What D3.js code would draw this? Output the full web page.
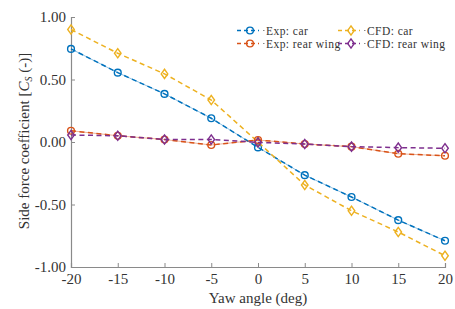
<!DOCTYPE html>
<html><head><meta charset="utf-8">
<script src="https://cdn.jsdelivr.net/npm/d3@7"></script>
<style>body{margin:0;background:#fff}svg{display:block} svg text{font-family:"Liberation Serif","DejaVu Serif",serif}</style>
</head><body><svg id="c" width="455" height="309"></svg>
<script>
const yaw = [-20,-15,-10,-5,0,5,10,15,20];
const expCar = [0.745,0.555,0.385,0.19,-0.043,-0.265,-0.44,-0.625,-0.79];
const cfdCar = [0.90,0.71,0.545,0.336,0.0,-0.344,-0.55,-0.72,-0.91];
const expWing = [0.09,0.05,0.02,-0.024,0.016,-0.016,-0.037,-0.094,-0.11];
const cfdWing = [0.056,0.05,0.02,0.02,-0.003,-0.016,-0.037,-0.045,-0.05];
const xTicks = [-20,-15,-10,-5,0,5,10,15,20];
const yTicks = [1,0.5,0,-0.5,-1];
const seriesNames = ["Exp: car","Exp: rear wing","CFD: car","CFD: rear wing"];

const series = [
  {name:seriesNames[0], vals:expCar, color:"#0072BD", marker:"circle", exp:true},
  {name:seriesNames[2], vals:cfdCar, color:"#EDB120", marker:"diamond", exp:false},
  {name:seriesNames[1], vals:expWing, color:"#D95319", marker:"circle", exp:true},
  {name:seriesNames[3], vals:cfdWing, color:"#7E2F8E", marker:"diamond", exp:false}
];

const svg = d3.select("#c");
const x = d3.scaleLinear().domain([-20,20]).range([71,445]);
const y = d3.scaleLinear().domain([-1,1]).range([267,17]);
const axisCol = "#8a8a8a";
const hy = f => d => f(d).replace("\u2212","-");

// axes
const gx = svg.append("g").attr("transform","translate(0,267)")
  .call(d3.axisBottom(x).tickValues(xTicks).tickSize(-4).tickPadding(9).tickFormat(hy(d3.format("d"))));
const gy = svg.append("g").attr("transform","translate(71,0)")
  .call(d3.axisLeft(y).tickValues(yTicks).tickSize(-4).tickPadding(5).tickFormat(hy(d3.format(".2f"))));
[gx,gy].forEach(g=>{
  g.attr("font-family",null);
  g.select(".domain").attr("stroke",axisCol).attr("stroke-width",1.2);
  g.selectAll(".tick line").attr("stroke",axisCol);
  g.selectAll(".tick text").attr("fill","#333").style("font-size","15px");
});
gx.selectAll(".tick text").attr("dy","0.5em");

svg.append("text").attr("x",258).attr("y",303).attr("text-anchor","middle")
  .style("font-size","15px").attr("fill","#333").text("Yaw angle (deg)");
const yl = svg.append("text").attr("transform","translate(29,141) rotate(-90)").attr("text-anchor","middle")
  .style("font-size","15px").attr("fill","#333");
yl.append("tspan").text("Side force coefficient [");
yl.append("tspan").style("font-style","italic").text("C");
yl.append("tspan").style("font-style","italic").style("font-size","10px").attr("dy","3").text("S");
yl.append("tspan").attr("dy","-3").text(" (-)]");

const line = d3.line().x((d,i)=>x(yaw[i])).y(d=>y(d));
function drawMarker(g, type, cx, cy, color){
  if(type==="circle"){
    g.append("circle").attr("cx",cx).attr("cy",cy).attr("r",3.4)
      .attr("fill","none").attr("stroke",color).attr("stroke-width",1.4);
  } else {
    g.append("path").attr("d",`M${cx},${cy-4.6}L${cx+3.3},${cy}L${cx},${cy+4.6}L${cx-3.3},${cy}Z`)
      .attr("fill","none").attr("stroke",color).attr("stroke-width",1.4);
  }
}
series.forEach(s=>{
  const g = svg.append("g");
  if(s.exp){
    g.append("path").attr("d",line(s.vals)).attr("fill","none").attr("stroke",s.color)
      .attr("stroke-opacity",0.45).attr("stroke-width",1);
  }
  g.append("path").attr("d",line(s.vals)).attr("fill","none").attr("stroke",s.color)
    .attr("stroke-width",1.5).attr("stroke-dasharray","5,3.5");
  s.vals.forEach((v,i)=>drawMarker(g,s.marker,x(yaw[i]),y(v),s.color));
});

// legend
const leg = [
  {s:series[0], lx:237, ly:30.5},
  {s:series[2], lx:237, ly:43.5},
  {s:series[1], lx:338, ly:30.5},
  {s:series[3], lx:338, ly:43.5}
];
leg.forEach(l=>{
  const g = svg.append("g");
  g.append("line").attr("x1",l.lx).attr("x2",l.lx+22).attr("y1",l.ly).attr("y2",l.ly)
    .attr("stroke",l.s.color).attr("stroke-width",1.5).attr("stroke-dasharray","4,3");
  drawMarker(g,l.s.marker,l.lx+13,l.ly,l.s.color);
  g.append("line").attr("x1",l.lx+26).attr("x2",l.lx+27.5).attr("y1",l.ly).attr("y2",l.ly)
    .attr("stroke","#888").attr("stroke-width",1.2);
  g.append("text").attr("x",l.lx+29).attr("y",l.ly).attr("dy","0.35em")
    .style("font-size","11.5px").style("letter-spacing","0.45px").attr("fill","#333").text(l.s.name);
});
</script></body></html>
